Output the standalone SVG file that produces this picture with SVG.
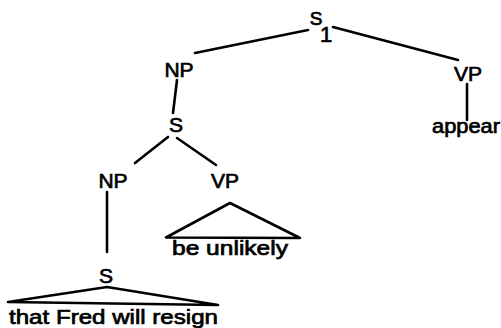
<svg xmlns="http://www.w3.org/2000/svg" width="501" height="328" viewBox="0 0 501 328">
<style>
.lbl{font-family:"Liberation Sans","DejaVu Sans",sans-serif;font-size:21px;fill:#000;text-anchor:middle;stroke:#000;stroke-width:0.7px}
.leaf{font-family:"Liberation Sans","DejaVu Sans",sans-serif;font-size:20px;fill:#000;stroke:#000;stroke-width:0.7px}
.edge{stroke:#000;stroke-width:2.6;fill:none;stroke-linecap:round;stroke-linejoin:round}
</style>
<rect width="501" height="328" fill="#fff"/>
<g id="connectors">
<line class="edge" x1="195" y1="53" x2="308" y2="30"/>
<line class="edge" x1="333" y1="27" x2="458" y2="60"/>
<line class="edge" x1="177" y1="80" x2="173" y2="113"/>
<line class="edge" x1="467" y1="84" x2="467" y2="120"/>
<line class="edge" x1="135" y1="163" x2="168" y2="137"/>
<line class="edge" x1="177" y1="138" x2="216" y2="165"/>
<line class="edge" x1="107" y1="192" x2="107" y2="252"/>
<polygon class="edge" points="166,237.5 230,203 300,238"/>
<polygon class="edge" points="8,302 107,287 218,305"/>
</g>
<g id="S1">
<text class="lbl" x="316" y="25" style="font-size:19px">S</text>
<text class="lbl" x="326" y="42" style="font-size:22px">1</text>
</g>
<g id="NP1"><text class="lbl" x="179" y="77">NP</text></g>
<g id="VP1"><text class="lbl" x="468" y="81">VP</text></g>
<g id="appear"><text class="leaf" x="432" y="133" textLength="68" lengthAdjust="spacingAndGlyphs">appear</text></g>
<g id="S2"><text class="lbl" x="176" y="132">S</text></g>
<g id="NP2"><text class="lbl" x="113" y="188">NP</text></g>
<g id="VP2"><text class="lbl" x="225" y="188">VP</text></g>
<g id="be_unlikely"><text class="leaf" x="172" y="255" textLength="116" lengthAdjust="spacingAndGlyphs">be unlikely</text></g>
<g id="S3"><text class="lbl" x="106" y="283">S</text></g>
<g id="that_fred"><text class="leaf" x="9" y="324" textLength="209" lengthAdjust="spacingAndGlyphs">that Fred will resign</text></g>
</svg>
